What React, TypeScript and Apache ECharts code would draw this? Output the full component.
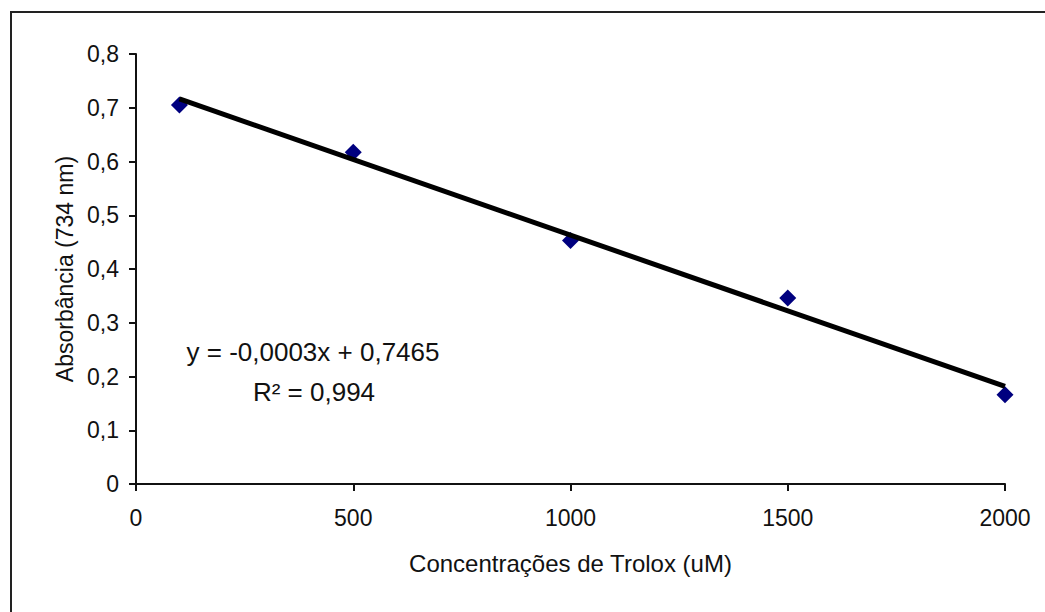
import React, { useEffect, useRef } from "react";
import * as echarts from "echarts";

const concentrations = [100, 500, 1000, 1500, 2000];
const absorbance = [0.705, 0.617, 0.453, 0.346, 0.166];
const equationText = "y = -0,0003x + 0,7465";
const r2Text = "R² = 0,994";
const xTitle = "Concentrações de Trolox (uM)";
const yTitle = "Absorbância (734 nm)";

function linearFit(xs: number[], ys: number[]) {
  const n = xs.length;
  const mx = xs.reduce((a, b) => a + b, 0) / n;
  const my = ys.reduce((a, b) => a + b, 0) / n;
  let sxy = 0;
  let sxx = 0;
  for (let i = 0; i < n; i++) {
    sxy += (xs[i] - mx) * (ys[i] - my);
    sxx += (xs[i] - mx) * (xs[i] - mx);
  }
  const slope = sxy / sxx;
  return { slope, intercept: my - slope * mx };
}

export default function App() {
  const ref = useRef<HTMLDivElement>(null);
  useEffect(() => {
    if (!ref.current) return;
    const chart = echarts.init(ref.current, undefined, { renderer: "svg" });
    const fit = linearFit(concentrations, absorbance);
    const x0 = concentrations[0];
    const x1 = concentrations[concentrations.length - 1];
    const trend = [
      [x0, fit.intercept + fit.slope * x0],
      [x1, fit.intercept + fit.slope * x1],
    ];
    const font = "Liberation Sans, Arial, sans-serif";
    const axisColor = "#111111";
    const textColor = "#111111";
    chart.setOption({
      animation: false,
      backgroundColor: "#ffffff",
      textStyle: { fontFamily: font },
      grid: { left: 136, top: 54, right: 40, bottom: 128, containLabel: false },
      xAxis: {
        type: "value",
        min: 0,
        max: 2000,
        interval: 500,
        name: xTitle,
        nameLocation: "middle",
        nameGap: 67,
        nameTextStyle: { fontSize: 24, color: textColor, fontFamily: font },
        axisLine: { lineStyle: { color: axisColor, width: 2 } },
        axisTick: { show: true, length: 7, inside: false, lineStyle: { color: axisColor, width: 2 } },
        axisLabel: {
          fontSize: 23,
          color: textColor,
          margin: 22,
          fontFamily: font,
          formatter: (v: number) => String(v),
        },
        splitLine: { show: false },
      },
      yAxis: {
        type: "value",
        min: 0,
        max: 0.8,
        interval: 0.1,
        name: yTitle,
        nameLocation: "middle",
        nameGap: 58,
        nameRotate: 90,
        nameTextStyle: { fontSize: 23, color: textColor, fontFamily: font },
        axisLine: { show: true, lineStyle: { color: axisColor, width: 2 } },
        axisTick: { show: true, length: 7, inside: false, lineStyle: { color: axisColor, width: 2 } },
        axisLabel: {
          fontSize: 23,
          color: textColor,
          margin: 17,
          fontFamily: font,
          formatter: (v: number) => (Math.round(v * 10) / 10).toString().replace(".", ","),
        },
        splitLine: { show: false },
      },
      series: [
        {
          type: "scatter",
          data: concentrations.map((c, i) => [c, absorbance[i]]),
          symbol: "diamond",
          symbolSize: 17,
          itemStyle: { color: "#00007f", opacity: 1 },
          z: 2,
        },
        {
          type: "line",
          data: trend,
          showSymbol: false,
          symbol: "none",
          lineStyle: { color: "#000000", width: 5 },
          z: 3,
        },
      ],
      graphic: [
        {
          type: "rect",
          shape: { x: 11, y: 12, width: 1100, height: 700 },
          style: { fill: "none", stroke: "#222222", lineWidth: 2 },
          silent: true,
        },
        {
          type: "text",
          x: 313,
          y: 352,
          style: {
            text: equationText,
            fontSize: 26,
            fontFamily: font,
            fill: textColor,
            align: "center",
            verticalAlign: "middle",
          },
        },
        {
          type: "text",
          x: 314,
          y: 392,
          style: {
            text: r2Text,
            fontSize: 26,
            fontFamily: font,
            fill: textColor,
            align: "center",
            verticalAlign: "middle",
          },
        },
      ],
    });
    return () => chart.dispose();
  }, []);
  return (
    <div
      ref={ref}
      style={{ position: "fixed", left: 0, top: 0, width: 1045, height: 612 }}
    />
  );
}
